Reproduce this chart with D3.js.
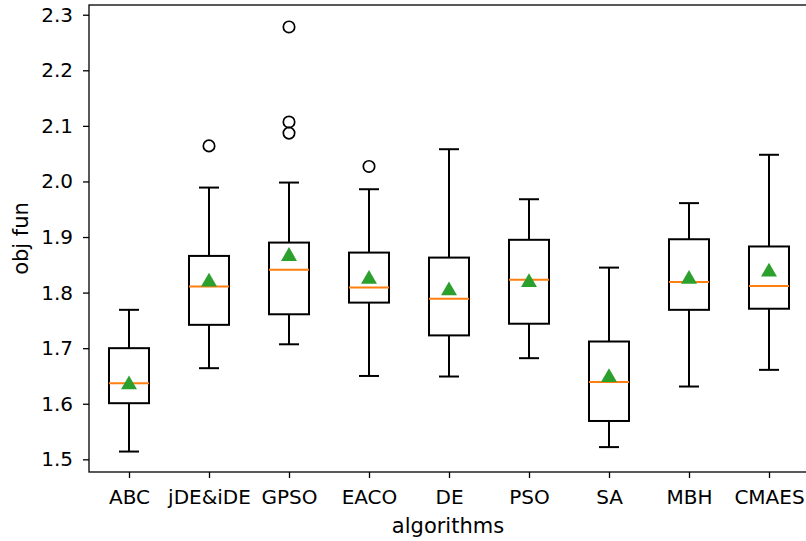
<!DOCTYPE html>
<html>
<head>
<meta charset="utf-8">
<script src="https://cdn.jsdelivr.net/npm/d3@7"></script>
<style>
  body { margin: 0; background: #fff; }
  svg { display: block; font-family: "DejaVu Sans", sans-serif; }
</style>
</head>
<body>
<svg id="chart"></svg>
<script>
// algorithm names, one box each
var algorithms = ["ABC", "jDE&iDE", "GPSO", "EACO", "DE", "PSO", "SA", "MBH", "CMAES"];

// box stats
var whiskerLow  = [1.514, 1.664, 1.707, 1.650, 1.649, 1.682, 1.522, 1.631, 1.661];
var q1          = [1.601, 1.742, 1.761, 1.782, 1.723, 1.744, 1.569, 1.769, 1.771];
var medians     = [1.637, 1.811, 1.841, 1.809, 1.789, 1.823, 1.639, 1.819, 1.812];
var q3          = [1.700, 1.866, 1.890, 1.872, 1.863, 1.895, 1.712, 1.896, 1.883];
var whiskerHigh = [1.769, 1.989, 1.998, 1.986, 2.058, 1.968, 1.845, 1.961, 2.048];
var means       = [1.637, 1.822, 1.868, 1.827, 1.806, 1.821, 1.650, 1.827, 1.840];

// outliers as [algorithm index, value]
var outliers = [[1, 2.064], [2, 2.278], [2, 2.107], [2, 2.087], [3, 2.027]];

var yTicks = [1.5, 1.6, 1.7, 1.8, 1.9, 2.0, 2.1, 2.2, 2.3];

var svgWidth = 806,
    svgHeight = 541,
    plotLeft = 89,
    plotTop = 5,
    plotBottom = 472,
    boxWidth = 0.5;

var svg = d3.select('#chart')
    .attr("width", svgWidth)
    .attr("height", svgHeight);

var x = d3.scaleLinear()
    .domain([0.5, algorithms.length + 0.5])
    .range([plotLeft, plotLeft + 720]);

var y = d3.scaleLinear()
    .domain([1.4772, 2.3175])
    .range([plotBottom, plotTop]);

var data = algorithms.map(function (name, i) {
    return {
        name: name, pos: i + 1,
        lo: whiskerLow[i], q1: q1[i], med: medians[i],
        q3: q3[i], hi: whiskerHigh[i], mean: means[i]
    };
});

// axes
var yAxis = d3.axisLeft(y)
    .tickValues(yTicks)
    .tickFormat(d3.format(".1f"))
    .tickSize(6)
    .tickPadding(10);

var xAxis = d3.axisBottom(x)
    .tickValues(data.map(function (d) { return d.pos; }))
    .tickFormat(function (d) { return algorithms[d - 1]; })
    .tickSize(6)
    .tickPadding(12);

var gy = svg.append("g")
    .attr("transform", "translate(" + plotLeft + ",0)")
    .call(yAxis);

var gx = svg.append("g")
    .attr("transform", "translate(0," + plotBottom + ")")
    .call(xAxis);

[gx, gy].forEach(function (g) {
    g.select(".domain").remove();
    g.selectAll(".tick line").attr("stroke", "#000").attr("stroke-width", 1.3);
    g.selectAll(".tick text")
        .attr("fill", "#000")
        .style("font-size", "20px")
        .style("font-family", "DejaVu Sans");
});

// frame
svg.append("rect")
    .attr("x", plotLeft)
    .attr("y", plotTop)
    .attr("width", x.range()[1] - plotLeft)
    .attr("height", plotBottom - plotTop)
    .attr("fill", "none")
    .attr("stroke", "#000")
    .attr("stroke-width", 1.3);

var boxes = svg.append("g").selectAll("g")
    .data(data)
    .enter()
    .append("g");

// whiskers
boxes.append("line")
    .attr("x1", function (d) { return x(d.pos); })
    .attr("x2", function (d) { return x(d.pos); })
    .attr("y1", function (d) { return y(d.lo); })
    .attr("y2", function (d) { return y(d.q1); })
    .attr("stroke", "#000").attr("stroke-width", 2);

boxes.append("line")
    .attr("x1", function (d) { return x(d.pos); })
    .attr("x2", function (d) { return x(d.pos); })
    .attr("y1", function (d) { return y(d.q3); })
    .attr("y2", function (d) { return y(d.hi); })
    .attr("stroke", "#000").attr("stroke-width", 2);

// caps
["lo", "hi"].forEach(function (k) {
    boxes.append("line")
        .attr("x1", function (d) { return x(d.pos - boxWidth / 4); })
        .attr("x2", function (d) { return x(d.pos + boxWidth / 4); })
        .attr("y1", function (d) { return y(d[k]); })
        .attr("y2", function (d) { return y(d[k]); })
        .attr("stroke", "#000").attr("stroke-width", 2);
});

// box
boxes.append("rect")
    .attr("x", function (d) { return x(d.pos - boxWidth / 2); })
    .attr("y", function (d) { return y(d.q3); })
    .attr("width", function (d) { return x(d.pos + boxWidth / 2) - x(d.pos - boxWidth / 2); })
    .attr("height", function (d) { return y(d.q1) - y(d.q3); })
    .attr("fill", "none")
    .attr("stroke", "#000").attr("stroke-width", 2);

// median
boxes.append("line")
    .attr("x1", function (d) { return x(d.pos - boxWidth / 2); })
    .attr("x2", function (d) { return x(d.pos + boxWidth / 2); })
    .attr("y1", function (d) { return y(d.med); })
    .attr("y2", function (d) { return y(d.med); })
    .attr("stroke", "#ff7f0e").attr("stroke-width", 2);

// mean markers
var tri = d3.symbol().type(d3.symbolTriangle).size(110);
boxes.append("path")
    .attr("d", tri)
    .attr("transform", function (d) {
        return "translate(" + x(d.pos) + "," + (y(d.mean) + 1.5) + ")";
    })
    .attr("fill", "#2ca02c");

// fliers
svg.append("g").selectAll("circle")
    .data(outliers)
    .enter()
    .append("circle")
    .attr("cx", function (d) { return x(d[0] + 1); })
    .attr("cy", function (d) { return y(d[1]); })
    .attr("r", 5.7)
    .attr("fill", "none")
    .attr("stroke", "#000")
    .attr("stroke-width", 1.7);

// axis labels
svg.append("text")
    .attr("x", 448)
    .attr("y", 533)
    .attr("text-anchor", "middle")
    .style("font-size", "21px")
    .text("algorithms");

svg.append("text")
    .attr("transform", "translate(28," + ((plotTop + plotBottom) / 2) + ") rotate(-90)")
    .attr("text-anchor", "middle")
    .style("font-size", "21px")
    .text("obj fun");
</script>
</body>
</html>
